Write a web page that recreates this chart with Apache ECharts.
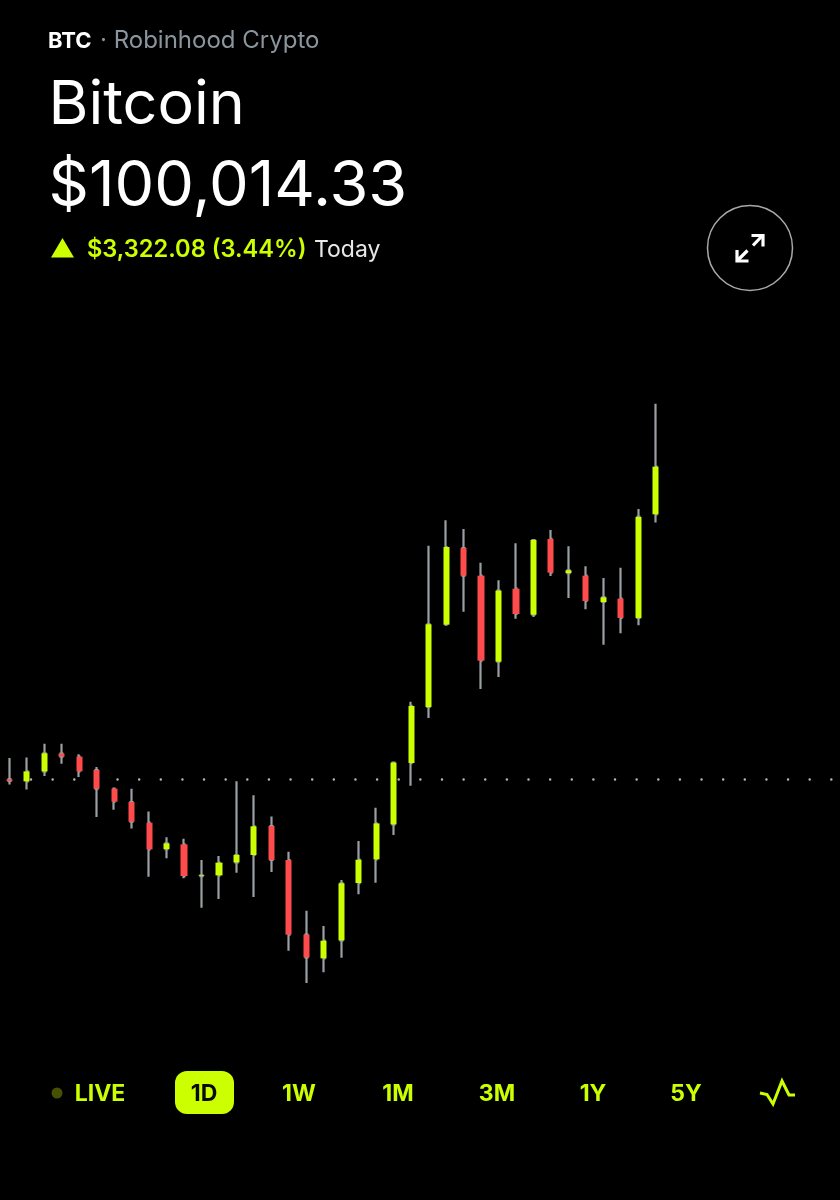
<!DOCTYPE html>
<html><head><meta charset="utf-8">
<style>html,body{margin:0;padding:0;background:#000}#c{width:840px;height:1200px}</style>
<script src="https://cdn.jsdelivr.net/npm/echarts@6/dist/echarts.min.js"></script>
</head><body><div id="c"></div>
<script>
const slots = Array.from({length:48},(_,i)=>String(i));
const opens  = [96694,96673,96779,96966,96935,96793,96596,96454,96235,95956,96006,95670,95677,95815,95893,96200,95840,95049,94798,94989,95596,95847,96218,96867,97461,98333,99145,98852,97941,98714,98439,99241,98880,98852,98573,98609,98404,99502];
const closes = [96677,96779,96970,96935,96779,96596,96458,96246,95953,96016,95670,95677,95812,95893,96197,95840,95049,94809,94985,95593,95843,96228,96871,97472,98337,99156,98852,97952,98693,98446,99230,98884,98909,98584,98623,98404,99474,100007];
const lows   = [96641,96588,96730,96860,96719,96295,96373,96175,95663,95858,95646,95335,95427,95706,95448,95713,94879,94537,94650,94805,95476,95600,96105,96627,97345,98330,98471,97652,97779,98397,98414,98849,98616,98496,98121,98241,98326,99414];
const highs  = [96920,96927,97072,97072,96959,96825,96599,96596,96355,96080,96066,95840,95882,96673,96525,96302,95928,95303,95141,95628,96041,96394,96882,97516,99170,99438,99346,98988,98803,99195,99234,99336,99163,98951,98827,98937,99558,100674];
const prevClose = 96692.25;
const symbol='BTC', venue='· Robinhood Crypto', assetName='Bitcoin', price='$100,014.33', change='$3,322.08 (3.44%)', period='Today';
const tabLabels=['LIVE','1D','1W','1M','3M','1Y','5Y'];
const tabCenters=[100,204,299,398,497,593,686];
const LIME='#ccff00', RED='#ff4b4b', WICK='#9a9fa4';
const FONT='Inter, "Liberation Sans", sans-serif';

const wickData = opens.map((o,i)=>[o,closes[i],lows[i],highs[i]]);
const bodyData = opens.map((o,i)=>[o,closes[i],Math.min(o,closes[i]),Math.max(o,closes[i])]);

const txt=(x,y,text,size,weight,fill,align)=>({type:'text',x,y,silent:true,style:{text,fontFamily:FONT,fontSize:size,fontWeight:weight,fill,align:align||'left',verticalAlign:'middle'}});
const poly=(points,stroke,w)=>({type:'polyline',silent:true,shape:{points},style:{stroke,lineWidth:w,fill:null,lineJoin:'miter'}});

const graphics=[
  txt(48,41,symbol,22,700,'#fff'),
  txt(100,41,venue,24,400,'#8b959e'),
  txt(48.5,106,assetName,61,400,'#fff'),
  txt(48.5,187,price,63,400,'#fff'),
  {type:'polygon',silent:true,shape:{points:[[51,257.5],[62.5,238],[74,257.5]]},style:{fill:LIME}},
  txt(87,250,change,23.6,600,LIME),
  txt(314,250,period,23,400,'#e8e8e8'),
  {type:'circle',silent:true,shape:{cx:750,cy:248,r:42.5},style:{fill:null,stroke:'#a8a8a8',lineWidth:1.5}},
  poly([[747.5,250.5],[738,260]],'#fff',3.2),
  poly([[737,250],[737,261],[748.5,261]],'#fff',3.2),
  poly([[753,245.5],[762,236]],'#fff',3.2),
  poly([[751.5,235.5],[763,235.5],[763,246.5]],'#fff',3.2),
  {type:'circle',silent:true,shape:{cx:57,cy:1093,r:5.5},style:{fill:'#474f00'}},
  {type:'rect',silent:true,shape:{x:175,y:1071,width:59,height:43,r:12},style:{fill:LIME}},
  poly([[760,1093],[767,1094.5],[773,1104],[782,1081],[789,1095],[795,1095]],LIME,3)
];
tabLabels.forEach((t,i)=>graphics.push(txt(tabCenters[i],1094,t,23,700,i===1?'#0a0a0a':LIME,'center')));

const chart=echarts.init(document.getElementById('c'),null,{renderer:'canvas'});
chart.setOption({
  backgroundColor:'#000',
  animation:false,
  grid:{left:0.6,right:0.8,top:400,height:600},
  xAxis:[
    {type:'category',data:slots,show:false,boundaryGap:true},
    {type:'value',min:0,max:48,show:false}
  ],
  yAxis:{type:'value',min:94357,max:100713,show:false,scale:true},
  graphic:graphics,
  series:[
    {name:'Previous close',type:'line',xAxisIndex:1,data:[[0.5,prevClose],[48,prevClose]],showSymbol:false,silent:true,z:1,
     lineStyle:{color:'#b5b5b5',width:2.4,type:[0.1,21.53],cap:'round'}},
    {name:'Wick',type:'candlestick',data:wickData,barWidth:2,z:2,
     itemStyle:{color:WICK,color0:WICK,borderColor:WICK,borderColor0:WICK,borderWidth:2.2}},
    {name:'Body',type:'candlestick',data:bodyData,barWidth:6.6,z:3,
     itemStyle:{color:LIME,color0:RED,borderColor:LIME,borderColor0:RED,borderWidth:0}}
  ]
});
</script></body></html>
